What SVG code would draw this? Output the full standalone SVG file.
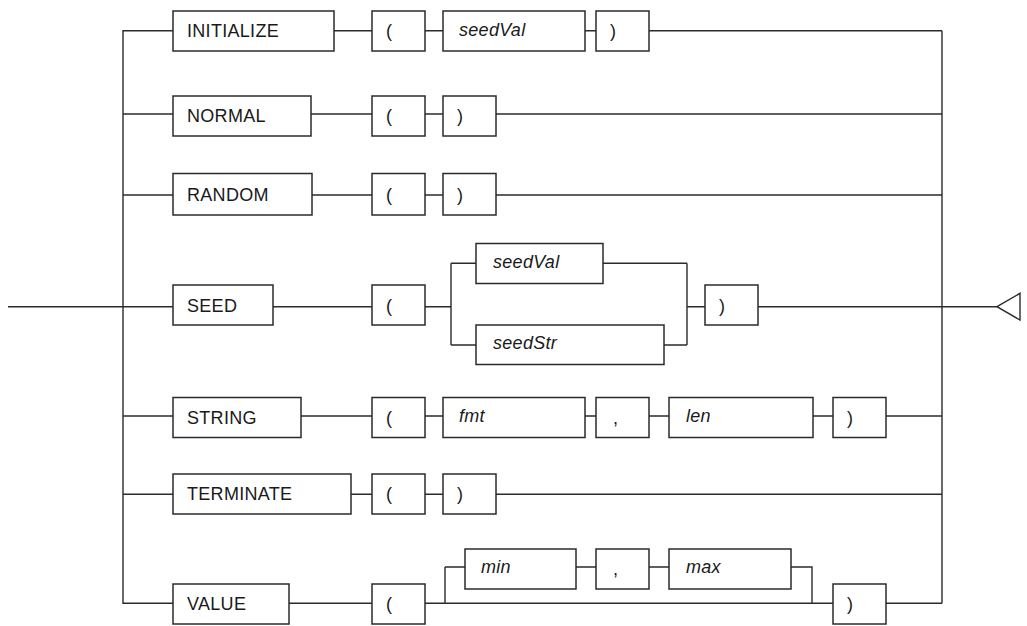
<svg xmlns="http://www.w3.org/2000/svg" width="1027" height="626" viewBox="0 0 1027 626">
<style>
rect.b{fill:#fff;stroke:#2b2b2b;stroke-width:1.5}
.c path{fill:none;stroke:#2b2b2b;stroke-width:1.4}
text{font-family:"Liberation Sans",Arial,sans-serif;font-size:18px;fill:#1a1a1a;letter-spacing:0.3px}
text.i{font-style:italic}
</style>
<rect width="1027" height="626" fill="#fff"/>
<g class="c" id="connectors">
<path d="M8 306.7H123M173 30.7H123V603.3H173M942 30.7V603.3"/>
<path d="M334 30.7H372M425 30.7H443M585 30.7H596M649 30.7H942"/>
<path d="M123 114H173M311 114H372M425 114H443M496 114H942"/>
<path d="M123 195H173M312 195H372M425 195H443M496 195H942"/>
<path d="M123 306.7H173M273 306.7H372M425 306.7H451M451 263.3V345M451 263.3H476M451 345H476M603 263.3H687M664 345H687M687 263.3V345M687 306.7H705M758 306.7H997"/>
<path d="M123 416H173M301 416H372M425 416H443M585 416H596M649 416H669M813 416H833M886 416H942"/>
<path d="M123 494.3H173M351 494.3H372M425 494.3H443M496 494.3H942"/>
<path d="M289 603.3H372M425 603.3H833M445 567V603.3M445 567H465M576 567H596M649 567H669M791 567H812V603.3M886 603.3H942"/>
<polygon points="997,306.7 1020,293.3 1020,320" fill="#fff" stroke="#2b2b2b" stroke-width="1.4"/>
</g>
<g id="n-initialize"><rect class="b" x="173" y="11" width="161" height="40"/><text x="187" y="37">INITIALIZE</text></g>
<g id="n-init-lp"><rect class="b" x="372" y="11" width="53" height="40"/><text x="386" y="37">(</text></g>
<g id="n-init-seedval"><rect class="b" x="443" y="11" width="142" height="40"/><text class="i" x="459" y="36">seedVal</text></g>
<g id="n-init-rp"><rect class="b" x="596" y="11" width="53" height="40"/><text x="610" y="37">)</text></g>

<g id="n-normal"><rect class="b" x="173" y="96" width="138" height="40"/><text x="187" y="122">NORMAL</text></g>
<g id="n-normal-lp"><rect class="b" x="372" y="96" width="53" height="40"/><text x="386" y="122">(</text></g>
<g id="n-normal-rp"><rect class="b" x="443" y="96" width="53" height="40"/><text x="457" y="122">)</text></g>

<g id="n-random"><rect class="b" x="173" y="173.5" width="139" height="41.5"/><text x="187" y="201">RANDOM</text></g>
<g id="n-random-lp"><rect class="b" x="372" y="173.5" width="53" height="41.5"/><text x="386" y="201">(</text></g>
<g id="n-random-rp"><rect class="b" x="443" y="173.5" width="53" height="41.5"/><text x="457" y="201">)</text></g>

<g id="n-seed"><rect class="b" x="173" y="285" width="100" height="40"/><text x="187" y="311.5">SEED</text></g>
<g id="n-seed-lp"><rect class="b" x="372" y="285" width="53" height="40"/><text x="386" y="311.5">(</text></g>
<g id="n-seed-seedval"><rect class="b" x="476" y="243.5" width="127" height="40"/><text class="i" x="493" y="267.5">seedVal</text></g>
<g id="n-seed-seedstr"><rect class="b" x="476" y="325" width="188" height="39.5"/><text class="i" x="493" y="349">seedStr</text></g>
<g id="n-seed-rp"><rect class="b" x="705" y="285" width="53" height="40"/><text x="719" y="311.5">)</text></g>

<g id="n-string"><rect class="b" x="173" y="397.5" width="128" height="40"/><text x="187" y="423.5">STRING</text></g>
<g id="n-string-lp"><rect class="b" x="372" y="397.5" width="53" height="40"/><text x="386" y="423.5">(</text></g>
<g id="n-string-fmt"><rect class="b" x="443" y="397.5" width="142" height="40"/><text class="i" x="459" y="422">fmt</text></g>
<g id="n-string-comma"><rect class="b" x="596" y="397.5" width="53" height="40"/><text x="613" y="423.5">,</text></g>
<g id="n-string-len"><rect class="b" x="669" y="397.5" width="144" height="40"/><text class="i" x="686" y="422">len</text></g>
<g id="n-string-rp"><rect class="b" x="833" y="397.5" width="53" height="40"/><text x="847" y="423.5">)</text></g>

<g id="n-terminate"><rect class="b" x="173" y="474" width="178" height="40"/><text x="187" y="500">TERMINATE</text></g>
<g id="n-term-lp"><rect class="b" x="372" y="474" width="53" height="40"/><text x="386" y="500">(</text></g>
<g id="n-term-rp"><rect class="b" x="443" y="474" width="53" height="40"/><text x="457" y="500">)</text></g>

<g id="n-value"><rect class="b" x="173" y="584" width="116" height="40"/><text x="187" y="610">VALUE</text></g>
<g id="n-value-lp"><rect class="b" x="372" y="584" width="53" height="40"/><text x="386" y="610">(</text></g>
<g id="n-value-min"><rect class="b" x="465" y="549" width="111" height="40"/><text class="i" x="481" y="573">min</text></g>
<g id="n-value-comma"><rect class="b" x="596" y="549" width="53" height="40"/><text x="613" y="575">,</text></g>
<g id="n-value-max"><rect class="b" x="669" y="549" width="122" height="40"/><text class="i" x="686" y="573">max</text></g>
<g id="n-value-rp"><rect class="b" x="833" y="584" width="53" height="40"/><text x="847" y="610">)</text></g>
</svg>
